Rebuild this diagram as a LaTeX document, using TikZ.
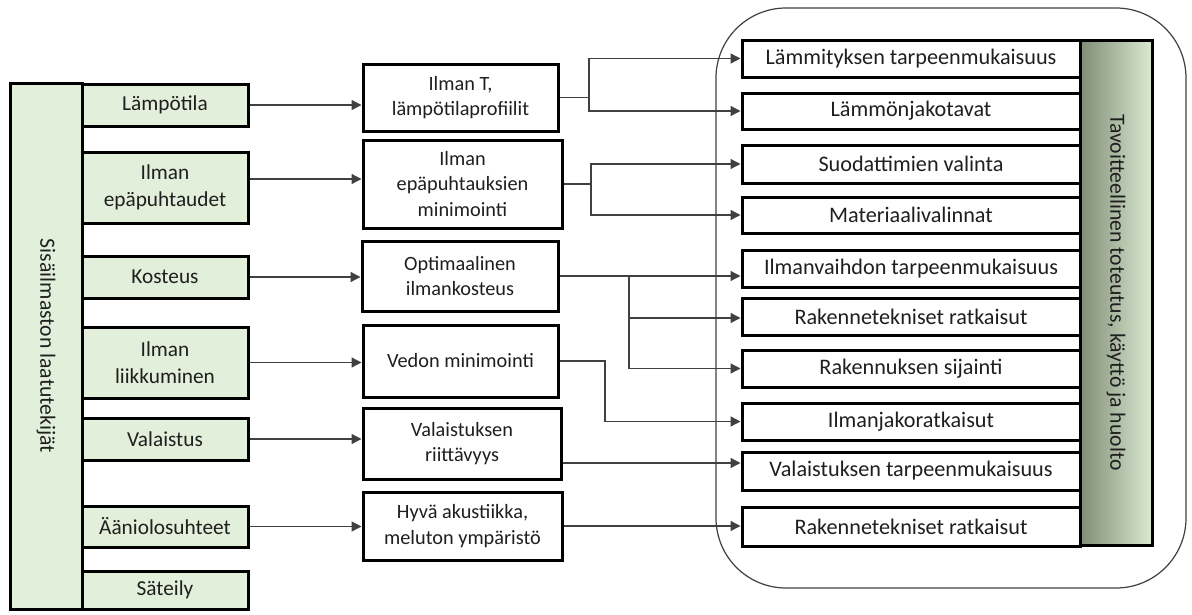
\documentclass[tikz,border=0pt]{standalone}
\usepackage{fontspec}
\setmainfont{Carlito}
\usetikzlibrary{arrows.meta}
\definecolor{boxgreen}{HTML}{E2EFDA}
\definecolor{txt}{HTML}{1F1F1F}
\definecolor{wire}{HTML}{404040}
\definecolor{barDark}{HTML}{7F8C76}
\definecolor{barMid}{HTML}{C4D3BA}
\definecolor{barLight}{HTML}{DCE9D2}

\begin{document}
\begin{tikzpicture}[x=1pt,y=-1pt,
  frame/.style={draw=black, line width=3pt, inner sep=0pt, text=txt, align=center},
  lbox/.style={frame, fill=boxgreen, minimum width=166pt, font=\fontsize{21.3}{27}\selectfont},
  mbox/.style={frame, fill=white, font=\fontsize{20.3}{25.5}\selectfont},
  rbox/.style={frame, fill=white, minimum width=338pt, font=\fontsize{22.2}{26}\selectfont},
  vtext/.style={rotate=-90, text=txt, font=\fontsize{21.7}{26}\selectfont},
  conn/.style={draw=wire, line width=1.3pt},
  arr/.style={conn, -{Triangle[length=10pt,width=10pt]}},
  group/.style={draw=wire, line width=1.2pt, rounded corners=70pt},
]
\useasboundingbox (0,0) rectangle (1192,614);

% enclosing frame of the implementation side
\draw[group] (716,8) rectangle (1186,588);

% left column: indoor-air quality factors
\node[frame, fill=boxgreen, minimum width=72pt, minimum height=526pt] (lbar) at (46,346) {};
\node[vtext] (ltitle) at (lbar.center) {Sisäilmaston laatutekijät};

\node[lbox, minimum height=42pt] (l1) at (165,105)   {Lämpötila};
\node[lbox, minimum height=71pt] (l2) at (165,187.5) {Ilman\\epäpuhtaudet};
\node[lbox, minimum height=42pt] (l3) at (165,277)   {Kosteus};
\node[lbox, minimum height=71pt] (l4) at (165,362.5) {Ilman\\liikkuminen};
\node[lbox, minimum height=42pt] (l5) at (165,439)   {Valaistus};
\node[lbox, minimum height=41pt] (l6) at (165,526.5) {Ääniolosuhteet};
\node[lbox, minimum height=38pt] (l7) at (165,590)   {Säteily};

% middle column: targets
\node[mbox, minimum width=195pt, minimum height=67pt] (m1) at (460.5,97.5) {Ilman T,\\lämpötilaprofiilit};
\node[mbox, minimum width=199pt, minimum height=88pt] (m2) at (462.5,184)  {Ilman\\epäpuhtauksien\\minimointi};
\node[mbox, minimum width=196pt, minimum height=70pt] (m3) at (460,276)    {Optimaalinen\\ilmankosteus};
\node[mbox, minimum width=195pt, minimum height=72pt] (m4) at (460.5,361)  {Vedon minimointi};
\node[mbox, minimum width=198pt, minimum height=71pt] (m5) at (462,443.5)  {Valaistuksen\\riittävyys};
\node[mbox, minimum width=199pt, minimum height=68pt] (m6) at (462.5,526)  {Hyvä akustiikka,\\meluton ympäristö};

% right column: solutions
\node[rbox, minimum height=37pt] (r1)  at (911,58.5)  {Lämmityksen tarpeenmukaisuus};
\node[rbox, minimum height=36pt] (r2)  at (911,111)   {Lämmönjakotavat};
\node[rbox, minimum height=38pt] (r3)  at (911,164)   {Suodattimien valinta};
\node[rbox, minimum height=36pt] (r4)  at (911,215)   {Materiaalivalinnat};
\node[rbox, minimum height=37pt] (r5)  at (911,268.5) {Ilmanvaihdon tarpeenmukaisuus};
\node[rbox, minimum height=37pt] (r6)  at (911,316.5) {Rakennetekniset ratkaisut};
\node[rbox, minimum height=37pt] (r7)  at (911,368.5) {Rakennuksen sijainti};
\node[rbox, minimum height=37pt] (r8)  at (911,421.5) {Ilmanjakoratkaisut};
\node[rbox, minimum height=38pt] (r9)  at (911,471)   {Valaistuksen tarpeenmukaisuus};
\node[rbox, minimum height=39pt] (r10) at (911,526.5) {Rakennetekniset ratkaisut};

\node[frame, minimum width=72pt, minimum height=505pt,
      left color=barDark, middle color=barMid, right color=barLight] (rbar) at (1116,292.5) {};
\node[vtext] (rtitle) at (rbar.center) {Tavoitteellinen toteutus, käyttö ja huolto};

% factor -> target arrows
\coordinate (t2) at ([yshift=5pt]m2.west);
\draw[arr] (l1.east) -- (l1.east -| m1.west);
\draw[arr] (l2.east |- t2) -- (t2);
\draw[arr] (l3.east) -- (l3.east -| m3.west);
\draw[arr] (l4.east) -- (l4.east -| m4.west);
\draw[arr] (l5.east) -- (l5.east -| m5.west);
\draw[arr] (l6.east) -- (l6.east -| m6.west);

% target -> solution connectors
\coordinate (j1) at (589,97.5);
\draw[conn] (m1.east) -- (j1);
\draw[arr] (j1) |- (r1.west);
\draw[arr] (j1) |- (r2.west);

\coordinate (j2) at (591,184);
\draw[conn] (m2.east) -- (j2);
\draw[arr] (j2) |- (r3.west);
\draw[arr] (j2) |- (r4.west);

\coordinate (j3) at (629,276);
\draw[arr] (m3.east) -- (m3.east -| r5.west);
\draw[arr] (j3) |- ([yshift=-1.5pt]r6.west);
\draw[arr] (j3) |- (r7.west);

\coordinate (j4) at (605,361);
\draw[arr] (m4.east) -- (j4) |- (r8.west);

\coordinate (t9) at ([yshift=8pt]r9.west);
\draw[arr] (m5.east |- t9) -- (t9);

\draw[arr] (m6.east) -- (m6.east -| r10.west);
\end{tikzpicture}
\end{document}
